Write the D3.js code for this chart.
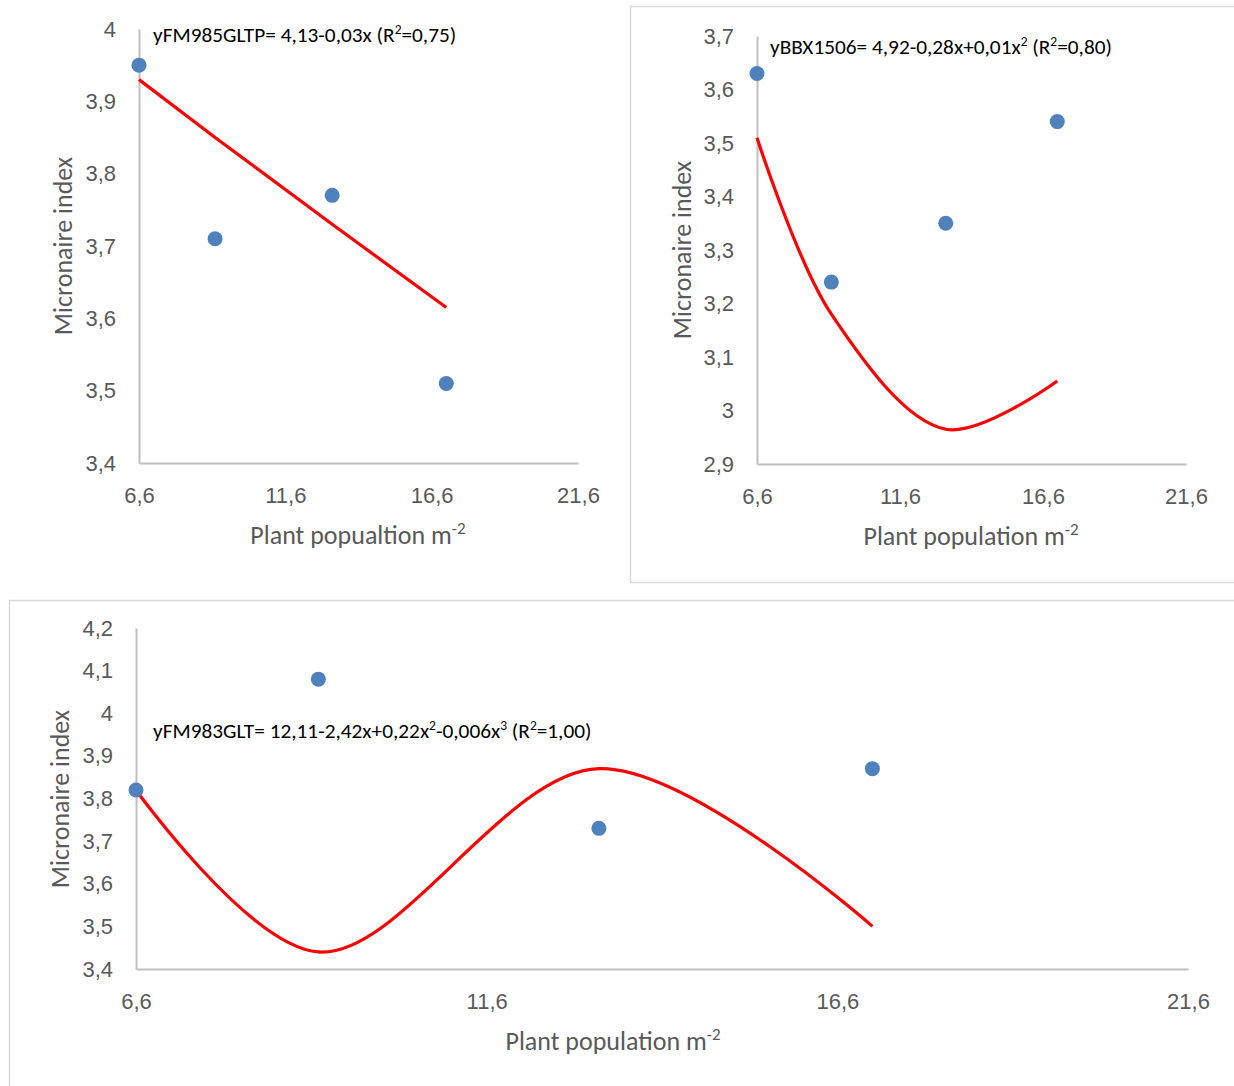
<!DOCTYPE html>
<html><head><meta charset="utf-8">
<script src="https://cdn.jsdelivr.net/npm/d3@7"></script>
<style>
html,body{margin:0;padding:0;background:#fff;}
svg{display:block;font-family:Calibri,Carlito,Lato,"Open Sans",sans-serif;}
</style></head>
<body>
<script>
// ---- data ----
const xValues = [6.6, 9.2, 13.2, 17.1];
const xTicks = [6.6, 11.6, 16.6, 21.6];

const fm985Observed = [3.95, 3.71, 3.77, 3.51];
const fm985Fitted   = [3.93, 3.85, 3.73, 3.615];
const fm985Ticks    = [3.4, 3.5, 3.6, 3.7, 3.8, 3.9, 4.0];

const bbxObserved = [3.63, 3.24, 3.35, 3.54];
const bbxFitted   = [3.51, 3.18, 2.965, 3.055];
const bbxTicks    = [2.9, 3.0, 3.1, 3.2, 3.3, 3.4, 3.5, 3.6, 3.7];

const fm983Observed = [3.82, 4.08, 3.73, 3.87];
const fm983Fitted   = [3.82, 3.44, 3.87, 3.50];
const fm983Ticks    = [3.4, 3.5, 3.6, 3.7, 3.8, 3.9, 4.0, 4.1, 4.2];

const yTitle = "Micronaire index";

const W = 1234, H = 1086;
const svg = d3.select("body").append("svg").attr("width", W).attr("height", H);

// panel frames
svg.append("rect").attr("x", 630.5).attr("y", 6.5).attr("width", 640).attr("height", 576)
  .attr("fill", "none").attr("stroke", "#d9d9d9").attr("stroke-width", 1.5);
svg.append("rect").attr("x", 9.5).attr("y", 600.5).attr("width", 1260).attr("height", 520)
  .attr("fill", "none").attr("stroke", "#d9d9d9").attr("stroke-width", 1.5);

const fmt = v => (Math.round(v * 10) / 10).toString().replace(".", ",");

function panel(cfg) {
  const x = d3.scaleLinear().domain([6.6, 21.6]).range([cfg.x0, cfg.x1]);
  const y = d3.scaleLinear().domain(cfg.yDomain).range([cfg.yb, cfg.yt]);
  const g = svg.append("g");

  // axes
  const xa = g.append("g").attr("transform", `translate(0,${cfg.yb})`)
    .call(d3.axisBottom(x).tickValues(xTicks).tickSize(0).tickPadding(20).tickFormat(fmt));
  const ya = g.append("g").attr("transform", `translate(${cfg.x0},0)`)
    .call(d3.axisLeft(y).tickValues(cfg.ticks).tickSize(0).tickPadding(23).tickFormat(fmt));
  [xa, ya].forEach(a => {
    a.select(".domain").attr("stroke", "#bfbfbf").attr("stroke-width", 2);
    a.selectAll("text").attr("fill", "#595959").style("font-size", "22px");
  });
  xa.selectAll("text").attr("dy", "0.35em").attr("y", 32);

  // titles
  const xt = g.append("text").attr("x", cfg.xTitleX).attr("y", cfg.yb + 81)
    .attr("text-anchor", "middle").attr("fill", "#595959").style("font-size", "26px");
  xt.append("tspan").text(cfg.xTitle + " m");
  xt.append("tspan").text("-2").attr("dy", -10).style("font-size", "17px");

  g.append("text").attr("transform", `translate(${cfg.yTitleX},${cfg.yTitleY}) rotate(-90)`)
    .attr("text-anchor", "middle").attr("fill", "#595959").style("font-size", "26px").text(yTitle);

  // fitted curve
  g.append("path").datum(xValues.map((v, i) => [v, cfg.fit[i]]))
    .attr("fill", "none").attr("stroke", "#ff0000").attr("stroke-width", 3.2)
    .attr("d", d3.line().x(d => x(d[0])).y(d => y(d[1])).curve(cfg.curve));

  // points
  g.selectAll("circle.pt").data(xValues.map((v, i) => [v, cfg.obs[i]])).join("circle")
    .attr("cx", d => x(d[0])).attr("cy", d => y(d[1])).attr("r", 7.5).attr("fill", "#4f81bd");

  // equation
  const eq = g.append("text").attr("x", cfg.eqX).attr("y", cfg.eqY).attr("fill", "#000")
    .style("font-size", "21.3px");
  cfg.eq.forEach(p => {
    const t = eq.append("tspan").text(p[0]);
    if (p[1]) t.attr("baseline-shift", "super").style("font-size", "13.5px");
  });
}

panel({
  x0: 139, x1: 578, yt: 29, yb: 463, yDomain: [3.4, 4.0], ticks: fm985Ticks,
  obs: fm985Observed, fit: fm985Fitted, curve: d3.curveLinear,
  xTitle: "Plant popualtion", xTitleX: 358, yTitleX: 72, yTitleY: 246,
  eqX: 153, eqY: 42,
  eq: [["yFM985GLTP= 4,13-0,03x (R"], ["2", 1], ["=0,75)"]]
});

panel({
  x0: 757, x1: 1186, yt: 36, yb: 464, yDomain: [2.9, 3.7], ticks: bbxTicks,
  obs: bbxObserved, fit: bbxFitted, curve: d3.curveCatmullRom,
  xTitle: "Plant population", xTitleX: 971, yTitleX: 691, yTitleY: 250,
  eqX: 770, eqY: 54,
  eq: [["yBBX1506= 4,92-0,28x+0,01x"], ["2", 1], [" (R"], ["2", 1], ["=0,80)"]]
});

panel({
  x0: 136, x1: 1188, yt: 628, yb: 969, yDomain: [3.4, 4.2], ticks: fm983Ticks,
  obs: fm983Observed, fit: fm983Fitted, curve: d3.curveCatmullRom,
  xTitle: "Plant population", xTitleX: 613, yTitleX: 69, yTitleY: 799,
  eqX: 153, eqY: 738,
  eq: [["yFM983GLT= 12,11-2,42x+0,22x"], ["2", 1], ["-0,006x"], ["3", 1], [" (R"], ["2", 1], ["=1,00)"]]
});
</script>
</body></html>
